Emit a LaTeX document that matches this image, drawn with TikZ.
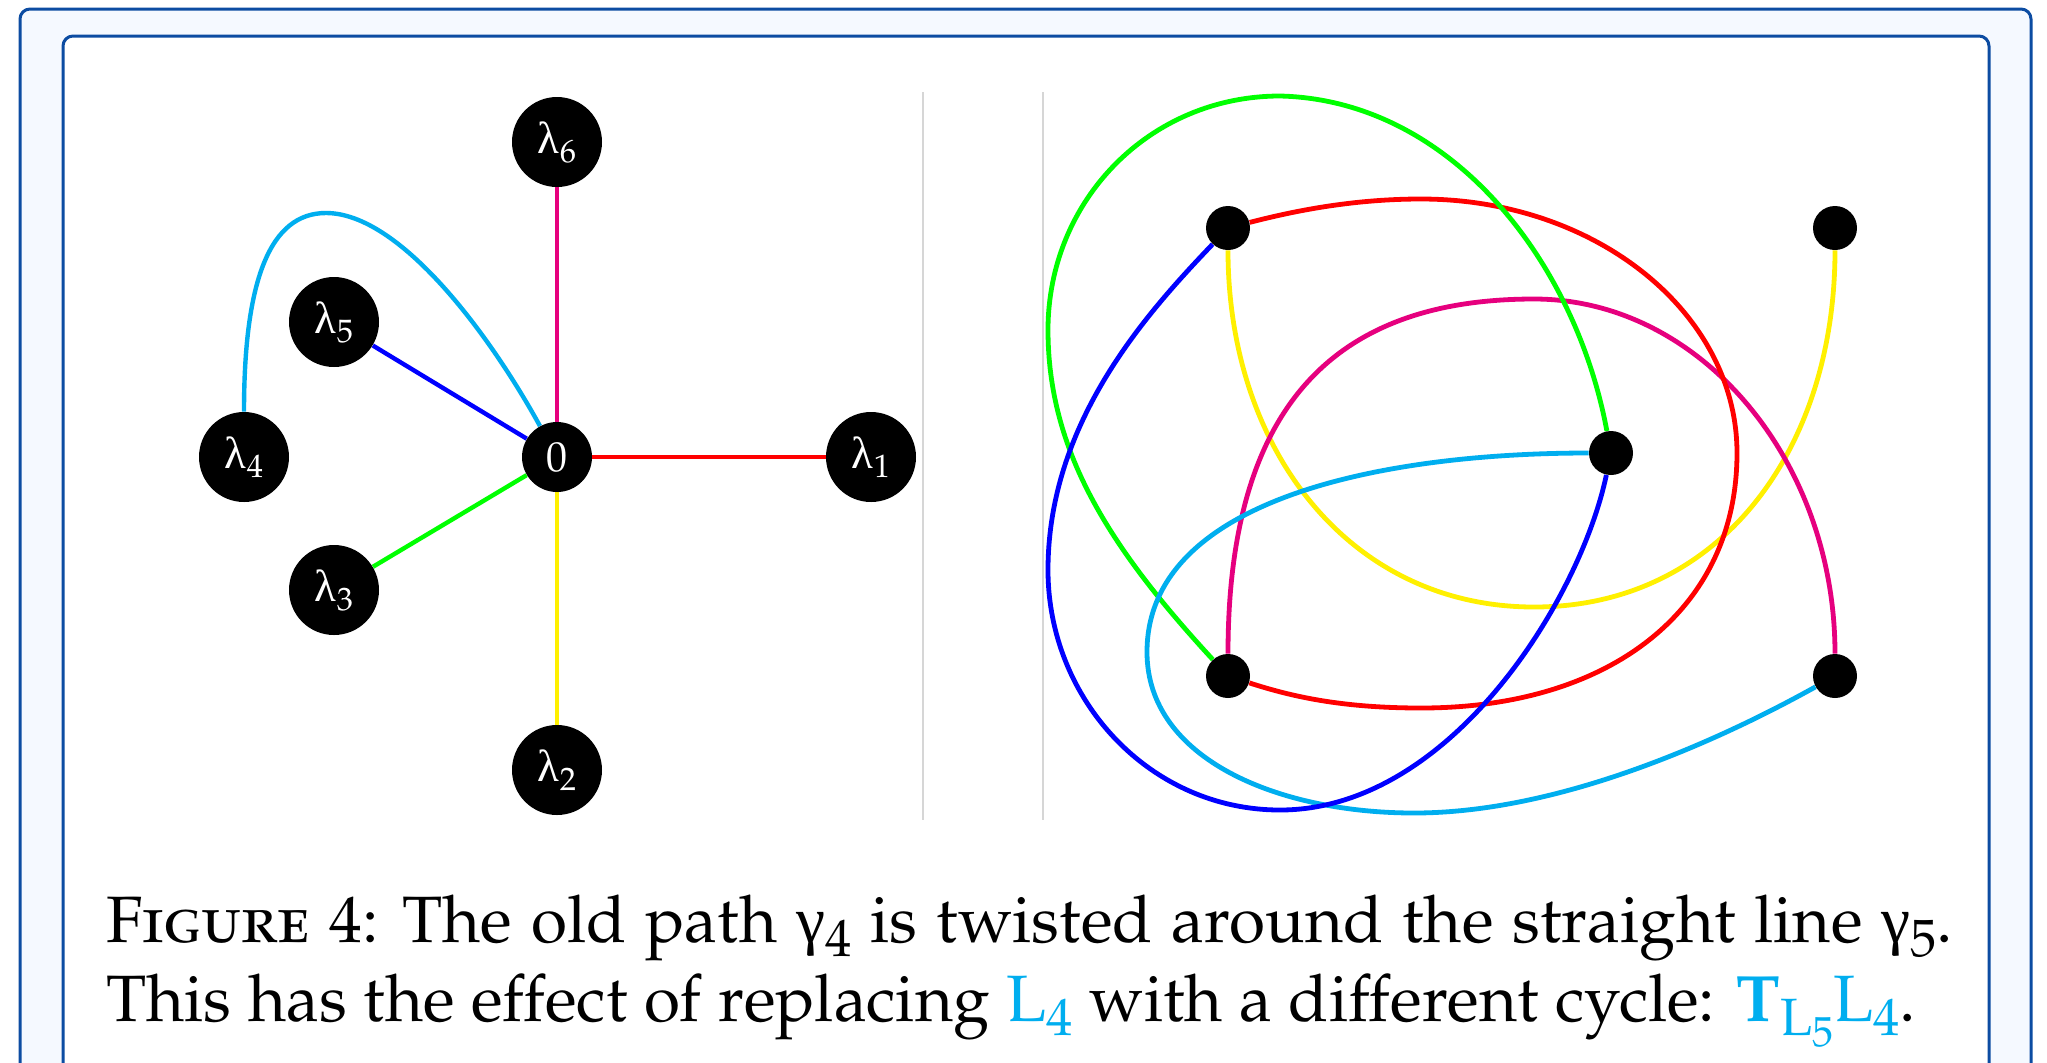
\documentclass[tikz,border=0pt]{standalone}
\usepackage{fontspec}
\newfontfamily\grkfam{Liberation Serif}
\usepackage[T1]{fontenc}
\usepackage[sc]{mathpazo}
\usepackage{graphicx}
\usetikzlibrary{backgrounds}
\definecolor{frameblue}{RGB}{12,76,162}
\definecolor{outerfill}{RGB}{245,249,255}
\definecolor{sepgray}{RGB}{214,214,214}
\definecolor{cRed}{RGB}{255,0,0}
\definecolor{cMag}{RGB}{230,0,126}
\definecolor{cYel}{RGB}{255,240,0}
\definecolor{cGrn}{RGB}{0,255,0}
\definecolor{cBlu}{RGB}{0,0,255}
\definecolor{cCya}{RGB}{0,174,239}
\newcommand{\gk}[1]{{\fontencoding{TU}\grkfam #1}}
\newcommand{\sbx}[1]{\raisebox{-0.22em}{\scalebox{0.8}{#1}}}
\newcommand{\lam}[1]{\gk{λ}\raisebox{-0.2em}{\scalebox{0.72}{#1}}}
\tikzset{
  lamnode/.style={circle, fill=black, minimum size=45pt, inner sep=0pt, text=white, font=\fontsize{22.5}{26}\selectfont},
  zeronode/.style={circle, fill=black, minimum size=35pt, inner sep=0pt, text=white, font=\fontsize{21}{24}\selectfont},
  dotnode/.style={circle, fill=black, minimum size=22pt, inner sep=0pt},
  edge/.style={line width=2.2pt},
  redge/.style={line width=2.4pt},
  capline/.style={anchor=base west, inner sep=0pt, font=\fontsize{32.8}{40}\selectfont}
}
\begin{document}
\begin{tikzpicture}[x=0.5pt, y=-0.5pt]
\useasboundingbox (0,0) rectangle (2047,1062);
% left graph nodes
\node[zeronode] (n0) at (557,457) {0};
\node[lamnode] (l1) at (871,457) {\lam{1}};
\node[lamnode] (l2) at (557,770) {\lam{2}};
\node[lamnode] (l3) at (334,590) {\lam{3}};
\node[lamnode] (l4) at (244,457) {\lam{4}};
\node[lamnode] (l5) at (334,322) {\lam{5}};
\node[lamnode] (l6) at (557,142) {\lam{6}};
% right graph nodes
\node[dotnode] (tl) at (1228,228) {};
\node[dotnode] (tr) at (1835,228) {};
\node[dotnode] (c)  at (1611,453) {};
\node[dotnode] (bl) at (1228,676) {};
\node[dotnode] (br) at (1835,676) {};
% caption
\node[capline] (cap1) at (106,942) {\textsc{Figure} 4: The old path \gk{γ}\sbx{4} is twisted around the straight line \gk{γ}\sbx{5}.};
\node[capline] (cap2) at (106,1021) {\spaceskip=8.35pt This has the effect of replacing \textcolor{cCya}{L\sbx{4}} with a different cycle: \textcolor{cCya}{\textbf{T}\sbx{L\sbx{5}}L\sbx{4}}.};
\begin{pgfonlayer}{background}
  \fill[white] (0,0) rectangle (2047,1062);
  \begin{scope}
    \clip (0,0) rectangle (2047,1062);
    \draw[frameblue, line width=1.5pt, fill=outerfill, rounded corners=5pt] (20,9) rectangle (2031,1140);
    \draw[frameblue, line width=1.5pt, fill=white, rounded corners=5pt] (63,36) rectangle (1989,1140);
  \end{scope}
  \draw[sepgray, line width=0.6pt] (923,92) -- (923,820);
  \draw[sepgray, line width=0.6pt] (1043,92) -- (1043,820);
  % left graph edges
  \draw[edge, cRed] (n0) -- (l1);
  \draw[edge, cMag] (n0) -- (l6);
  \draw[edge, cYel] (n0) -- (l2);
  \draw[edge, cBlu] (n0) -- (l5);
  \draw[edge, cGrn] (n0) -- (l3);
  \draw[edge, cCya] (l4) .. controls (244,280) and (270,213) .. (326,213) .. controls (400,213) and (490,335) .. (n0);
  % right graph curves
  \draw[redge, cYel] (tl) .. controls (1228,450) and (1350,607) .. (1534,607) .. controls (1720,607) and (1835,450) .. (tr);
  \draw[redge, cMag] (bl) .. controls (1228,400) and (1340,299) .. (1534,299) .. controls (1700,299) and (1835,460) .. (br);
  \draw[redge, cRed] (tl) .. controls (1290,212) and (1350,199) .. (1421,199) .. controls (1596,199) and (1737,313) .. (1737,453) .. controls (1737,610) and (1610,708) .. (1421,708) .. controls (1340,708) and (1290,696) .. (bl);
  \draw[redge, cGrn] (bl) .. controls (1108,546) and (1048,450) .. (1048,330) .. controls (1048,200) and (1150,96) .. (1280,96) .. controls (1450,100) and (1575,260) .. (c);
  \draw[redge, cCya] (c) .. controls (1380,453) and (1147,500) .. (1147,652) .. controls (1147,760) and (1280,813) .. (1414,813) .. controls (1560,813) and (1720,740) .. (br);
  \draw[redge, cBlu] (tl) .. controls (1150,310) and (1048,420) .. (1048,570) .. controls (1048,700) and (1150,810) .. (1280,810) .. controls (1450,810) and (1580,600) .. (c);
\end{pgfonlayer}
\end{tikzpicture}
\end{document}
